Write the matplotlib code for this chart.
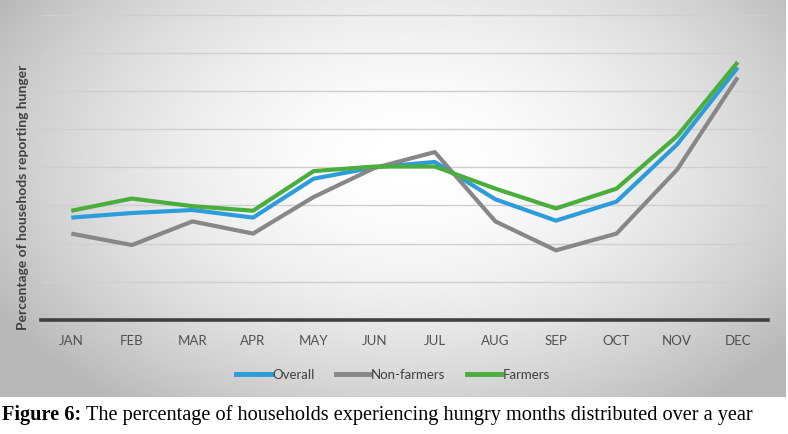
import numpy as np
import matplotlib.pyplot as plt
from matplotlib.lines import Line2D

# Data (percent of households)
months = ["JAN", "FEB", "MAR", "APR", "MAY", "JUN",
          "JUL", "AUG", "SEP", "OCT", "NOV", "DEC"]
overall = [13.4, 14.0, 14.4, 13.4, 18.5, 20.0, 20.7, 15.8, 13.0, 15.5, 23.0, 33.1]
non_farmers = [11.3, 9.8, 12.9, 11.3, 16.1, 19.9, 22.0, 12.9, 9.1, 11.3, 19.7, 31.8]
farmers = [14.3, 15.9, 14.9, 14.3, 19.5, 20.1, 20.1, 17.2, 14.6, 17.2, 24.1, 33.8]

W, H = 788, 435
fig = plt.figure(figsize=(W / 100, H / 100), dpi=100)
fig.patch.set_facecolor("white")

# gradient panel behind the chart
bg = fig.add_axes([0, 37 / H, 786 / W, 398 / H])
xx, yy = np.meshgrid(np.linspace(0, 786, 400), np.linspace(0, 398, 200))
r = np.sqrt(((xx - 410) / 480) ** 2 + ((yy - 160) / 310) ** 2)
shade = 1 - 0.28 * np.clip(r, 0, 1) ** 1.8
bg.imshow(shade, cmap="gray", vmin=0, vmax=1, aspect="auto",
          extent=[0, 786, 398, 0], interpolation="bicubic")
bg.axhline(397.5, color="#a0a0a0", lw=0.8)
bg.set_axis_off()

ax = fig.add_axes([41 / W, 114.3 / H, 727 / W, 308.6 / H])
ax.set_facecolor("none")
x = np.arange(len(months))
ax.plot(x, overall, color="#2D9CDB", lw=3, solid_capstyle="butt", label="Overall")
ax.plot(x, non_farmers, color="#878787", lw=3, solid_capstyle="butt", label="Non-farmers")
ax.plot(x, farmers, color="#4AAE3D", lw=3, solid_capstyle="butt", label="Farmers")

ax.set_xlim(-0.5, 11.5)
ax.set_ylim(0, 40.5)
ax.set_yticks(np.arange(5, 41, 5))
ax.yaxis.grid(True, color="#cfcfcf", lw=1)
ax.set_axisbelow(True)
ax.tick_params(axis="y", left=False, labelleft=False)
ax.tick_params(axis="x", bottom=False, pad=7)
ax.set_xticks(x)
ax.set_xticklabels(months, fontsize=9.5, color="#505050", family="Lato")
for side in ["top", "right", "left"]:
    ax.spines[side].set_visible(False)
ax.spines["bottom"].set_color("#404040")
ax.spines["bottom"].set_linewidth(2.6)

fig.text(23 / W, 1 - 197 / H, "Percentage of househods reporting hunger",
         rotation=90, ha="center", va="center", fontsize=10, color="#404040",
         family="Lato", fontweight="bold")

handles = [Line2D([], [], color="#2D9CDB", lw=3.5),
           Line2D([], [], color="#878787", lw=3.5),
           Line2D([], [], color="#4AAE3D", lw=3.5)]
fig.legend(handles, ["Overall", "Non-farmers", "Farmers"], loc="center",
           bbox_to_anchor=(393 / W, 1 - 375.5 / H), ncol=3, frameon=False,
           handlelength=2.6, handletextpad=0.1, columnspacing=1.6,
           prop={"family": "Lato", "size": 9.5}, labelcolor="#404040")

fig.text(2 / W, 1 - 415 / H, "Figure 6:", ha="left", va="center",
         fontsize=14.6, family="Liberation Serif", fontweight="bold")
fig.text(86 / W, 1 - 415 / H,
         "The percentage of households experiencing hungry months distributed over a year",
         ha="left", va="center", fontsize=14.6, family="Liberation Serif")

fig.savefig("out.png", dpi=100)
